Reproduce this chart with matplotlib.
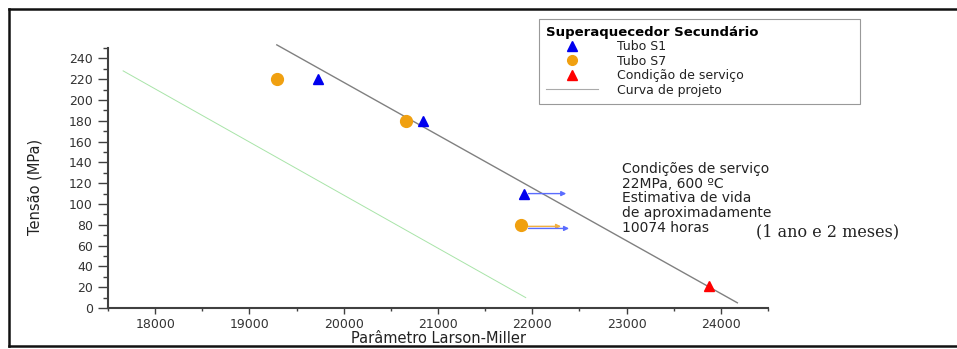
import matplotlib
matplotlib.use('Agg')
import matplotlib.pyplot as plt
from matplotlib.lines import Line2D
from matplotlib.ticker import MultipleLocator

# data
s1_x = [19730, 20840, 21910]
s1_y = [220, 180, 110]
s7_x = [19290, 20660, 21880]
s7_y = [220, 180, 80]
serv_x = [23870]
serv_y = [21]
proj_x = [19290, 24175]
proj_y = [253, 5]
green_x = [17660, 21930]
green_y = [228, 10]

# horizontal arrows (start x, end x, y, colour)
arrow_x0 = [21960, 21930, 21960]
arrow_x1 = [22360, 22305, 22390]
arrow_y = [110, 78.5, 76.5]
arrow_c = ['#5a6cff', '#f2b040', '#5a6cff']

xticks = [18000, 19000, 20000, 21000, 22000, 23000, 24000]
yticks = list(range(0, 241, 20))

note = ("Condições de serviço\n22MPa, 600 ºC\nEstimativa de vida\n"
        "de aproximadamente\n10074 horas")

fig = plt.figure(figsize=(9.57, 3.49), dpi=100)
ax = fig.add_axes([0.1129, 0.1175, 0.6896, 0.745])

ax.plot(green_x, green_y, color='#a8e4a8', lw=0.7)
ax.plot(proj_x, proj_y, color='#808080', lw=1.0, clip_on=False)

for x0, x1, y, c in zip(arrow_x0, arrow_x1, arrow_y, arrow_c):
    ax.annotate('', xy=(x1, y), xytext=(x0, y),
                arrowprops=dict(arrowstyle='-|>', color=c, lw=1.0,
                                shrinkA=0, shrinkB=0, mutation_scale=7))

ax.plot(s7_x, s7_y, 'o', color='#f0a010', ms=8.5, mec='#f0a010', zorder=4)
ax.plot(s1_x, s1_y, '^', color='#0000ee', ms=7.5, zorder=4)
ax.plot(serv_x, serv_y, '^', color='#ff0000', ms=7.5, zorder=4)

ax.set_xlim(17500, 24500)
ax.set_ylim(0, 250)
ax.set_xticks(xticks)
ax.set_yticks(yticks)
ax.xaxis.set_minor_locator(MultipleLocator(500))
ax.yaxis.set_minor_locator(MultipleLocator(10))

for s in ['top', 'right']:
    ax.spines[s].set_visible(False)
for s in ['left', 'bottom']:
    ax.spines[s].set_color('#404040')
    ax.spines[s].set_linewidth(1.5)

ax.tick_params(axis='x', which='major', length=4.5, width=1, colors='#404040',
               labelsize=9, labelcolor='#333333', pad=3)
ax.tick_params(axis='x', which='minor', length=2.5, width=1, colors='#404040')
ax.tick_params(axis='y', which='major', length=7, width=1, colors='#404040',
               labelsize=9, labelcolor='#333333', pad=4)
ax.tick_params(axis='y', which='minor', length=3.5, width=1, colors='#404040')

ax.set_ylabel('Tensão (MPa)', fontsize=10.5, color='#222222')
ax.yaxis.set_label_coords(-0.1, 0.465)
ax.set_xlabel('Parâmetro Larson-Miller', fontsize=10.5, color='#222222', va='top')
ax.xaxis.set_label_coords(0.5, -0.089)

ax.text(22950, 140, note, fontsize=10, va='top', ha='left',
        color='#222222', linespacing=1.05)
ax.text(24368, 73.5, '(1 ano e 2 meses)', fontsize=11.5, family='DejaVu Serif',
        va='center', ha='left', color='#222222', clip_on=False)

handles = [
    Line2D([], [], ls='none', marker='^', color='#0000ee', ms=7),
    Line2D([], [], ls='none', marker='o', color='#f0a010', ms=7),
    Line2D([], [], ls='none', marker='^', color='#ff0000', ms=7),
    Line2D([], [], color='#aaaaaa', lw=0.8),
]
labels = ['Tubo S1', 'Tubo S7', 'Condição de serviço', 'Curva de projeto']
leg = ax.legend(handles, labels, title='Superaquecedor Secundário',
                loc='upper left', bbox_to_anchor=(0.563, 0.70, 0.336, 0.2456),
                bbox_transform=fig.transFigure, mode='expand', borderaxespad=0,
                fontsize=9, title_fontproperties={'weight': 'bold', 'size': 9.5},
                alignment='left', handlelength=4.2, handletextpad=1.5,
                labelspacing=0.12, borderpad=0.55, fancybox=False,
                edgecolor='#999999', framealpha=1)
leg.get_frame().set_linewidth(0.8)
for t in leg.get_texts():
    t.set_color('#222222')

# black frame around the picture (top, left, bottom)
frame_kw = dict(transform=fig.transFigure, color='#111111', lw=1.8, zorder=10)
fig.add_artist(Line2D([0.0094, 1.0], [0.974, 0.974], **frame_kw))
fig.add_artist(Line2D([0.0094, 0.0094], [0.974, 0.009], **frame_kw))
fig.add_artist(Line2D([0.0094, 1.0], [0.009, 0.009], **frame_kw))

fig.savefig('out.png', dpi=100)
